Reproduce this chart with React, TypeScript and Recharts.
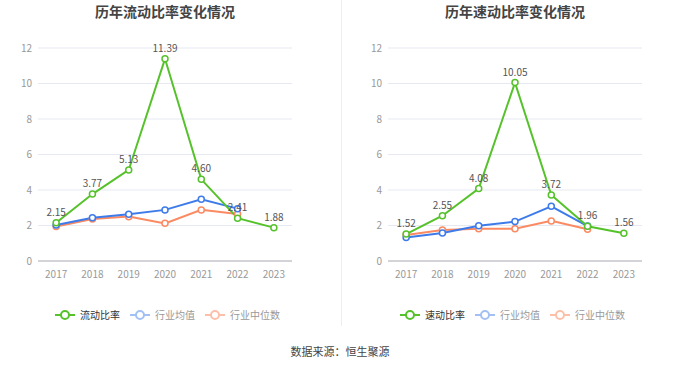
import React from "react";
import { LineChart, Line, XAxis, YAxis, CartesianGrid, LabelList } from "recharts";

const years = ["2017", "2018", "2019", "2020", "2021", "2022", "2023"];

const currentRatio = [2.15, 3.77, 5.13, 11.39, 4.6, 2.41, 1.88];
const currentAvg = [2.03, 2.44, 2.63, 2.88, 3.48, 2.95, null];
const currentMedian = [1.94, 2.37, 2.5, 2.12, 2.88, 2.65, null];

const quickRatio = [1.52, 2.55, 4.08, 10.05, 3.72, 1.96, 1.56];
const quickAvg = [1.32, 1.58, 1.99, 2.22, 3.08, 1.97, null];
const quickMedian = [1.47, 1.75, 1.82, 1.82, 2.26, 1.79, null];

const yTicks = [0, 2, 4, 6, 8, 10, 12];

const GREEN = "#56c22b";
const BLUE = "#3e7bea";
const ORANGE = "#fb8a62";
const FONT = "'Noto Sans CJK SC', 'Noto Sans', sans-serif";

type Row = { year: string; main: number | null; avg: number | null; median: number | null };

const build = (main: (number | null)[], avg: (number | null)[], median: (number | null)[]): Row[] =>
  years.map((year, i) => ({ year, main: main[i], avg: avg[i], median: median[i] }));

const currentData = build(currentRatio, currentAvg, currentMedian);
const quickData = build(quickRatio, quickAvg, quickMedian);

function LegendIcon({ color }: { color: string }) {
  return (
    <svg width={20} height={10} style={{ display: "block" }}>
      <line x1={0} y1={5} x2={20} y2={5} stroke={color} strokeWidth={2} />
      <circle cx={10} cy={5} r={4} fill="#fff" stroke={color} strokeWidth={2} />
    </svg>
  );
}

function ChartLegend({ mainName }: { mainName: string }) {
  const items = [
    { name: mainName, icon: GREEN, text: "#333" },
    { name: "行业均值", icon: "#a3c0f5", text: "#999" },
    { name: "行业中位数", icon: "#fcc0aa", text: "#999" },
  ];
  return (
    <div style={{ display: "flex", justifyContent: "center", alignItems: "center", gap: 10 }}>
      {items.map((it) => (
        <div key={it.name} style={{ display: "flex", alignItems: "center", gap: 5 }}>
          <LegendIcon color={it.icon} />
          <span style={{ fontSize: 10, color: it.text, fontFamily: FONT }}>{it.name}</span>
        </div>
      ))}
    </div>
  );
}

function RatioChart({
  title,
  mainName,
  data,
  yWidth,
  rightMargin,
}: {
  title: string;
  mainName: string;
  data: Row[];
  yWidth: number;
  rightMargin: number;
}) {
  const titleCenter = yWidth + (340 - yWidth - rightMargin) / 2;
  const half = (340 - yWidth - rightMargin) / 14;
  return (
    <div style={{ position: "relative", width: 340, height: 367 }}>
      <div
        style={{
          position: "absolute",
          top: 1,
          left: titleCenter - 120,
          width: 240,
          textAlign: "center",
          fontSize: 14,
          fontWeight: "bold",
          color: "#444",
          fontFamily: FONT,
        }}
      >
        {title}
      </div>
      <div style={{ position: "absolute", top: 0, left: 0 }}>
        <LineChart
          width={340}
          height={290}
          data={data}
          margin={{ top: 48, right: rightMargin, bottom: 0, left: 0 }}
          style={{ fontFamily: FONT }}
        >
          <CartesianGrid vertical={false} stroke="#e6e9f2" />
          <XAxis
            dataKey="year"
            height={29}
            padding={{ left: half, right: half }}
            tickLine={false}
            axisLine={{ stroke: "#c8c8cc", strokeWidth: 1.5 }}
            tick={{ fontSize: 10, fill: "#999" }}
            tickMargin={4}
          />
          <YAxis
            width={yWidth}
            domain={[0, 12]}
            ticks={yTicks}
            axisLine={false}
            tickLine={false}
            tickSize={0}
            tickMargin={6}
            tick={{ fontSize: 10, fill: "#999" }}
          />
          <Line
            dataKey="median"
            stroke={ORANGE}
            strokeWidth={2}
            dot={{ r: 3, fill: "#fff", stroke: ORANGE, strokeWidth: 1.5 }}
            isAnimationActive={false}
          />
          <Line
            dataKey="avg"
            stroke={BLUE}
            strokeWidth={2}
            dot={{ r: 3, fill: "#fff", stroke: BLUE, strokeWidth: 1.5 }}
            isAnimationActive={false}
          />
          <Line
            dataKey="main"
            stroke={GREEN}
            strokeWidth={2}
            dot={{ r: 3, fill: "#fff", stroke: GREEN, strokeWidth: 1.5 }}
            isAnimationActive={false}
          >
            <LabelList
              dataKey="main"
              position="top"
              offset={7}
              formatter={(v: number) => v.toFixed(2)}
              style={{ fontSize: 10, fill: "#555" }}
            />
          </Line>
        </LineChart>
      </div>
      <div style={{ position: "absolute", top: 307, left: 0, width: 340 }}>
        <div style={{ marginLeft: titleCenter - 170 }}>
          <ChartLegend mainName={mainName} />
        </div>
      </div>
    </div>
  );
}

export default function App() {
  return (
    <div
      style={{
        position: "absolute",
        top: 0,
        left: 0,
        width: 680,
        height: 367,
        background: "#fff",
        fontFamily: FONT,
      }}
    >
      <div style={{ display: "flex" }}>
        <RatioChart title="历年流动比率变化情况" mainName="流动比率" data={currentData} yWidth={38} rightMargin={48} />
        <RatioChart title="历年速动比率变化情况" mainName="速动比率" data={quickData} yWidth={48} rightMargin={38} />
      </div>
      <div style={{ position: "absolute", left: 341, top: 0, width: 1, height: 326, background: "#eeeeee" }} />
      <div
        style={{
          position: "absolute",
          top: 343,
          left: 0,
          width: 680,
          textAlign: "center",
          fontSize: 11,
          color: "#444",
          fontFamily: FONT,
        }}
      >
        数据来源：恒生聚源
      </div>
    </div>
  );
}
